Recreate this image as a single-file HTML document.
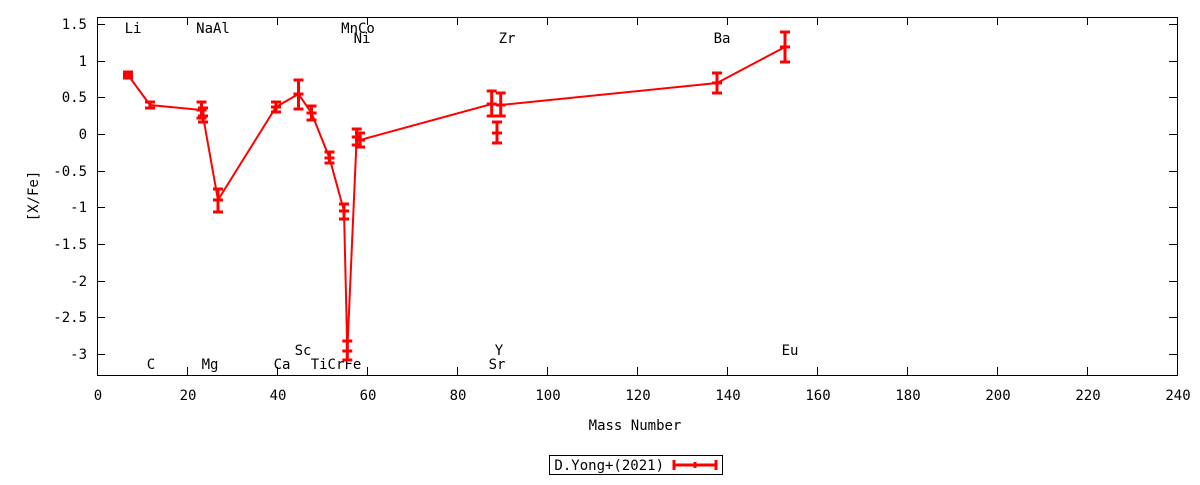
<!DOCTYPE html>
<html><head><meta charset="utf-8"><style>
body{margin:0;background:#fff}
svg text{font-family:"DejaVu Sans Mono","Liberation Mono",monospace;font-size:14px;fill:#000}
</style></head><body>
<svg width="1200" height="480" viewBox="0 0 1200 480" xmlns="http://www.w3.org/2000/svg">
<rect x="97.5" y="17.5" width="1080" height="358" fill="none" stroke="#000" stroke-width="1"/>
<g stroke="#000" stroke-width="1">
<path d="M97 24.5h8M97 61.5h8M97 97.5h8M97 134.5h8M97 171.5h8M97 207.5h8M97 244.5h8M97 281.5h8M97 317.5h8M97 354.5h8"/>
<path d="M1177 24.5h-8M1177 61.5h-8M1177 97.5h-8M1177 134.5h-8M1177 171.5h-8M1177 207.5h-8M1177 244.5h-8M1177 281.5h-8M1177 317.5h-8M1177 354.5h-8"/>
<path d="M187.5 375v-8M277.5 375v-8M367.5 375v-8M457.5 375v-8M547.5 375v-8M637.5 375v-8M727.5 375v-8M817.5 375v-8M907.5 375v-8M997.5 375v-8M1087.5 375v-8"/>
<path d="M187.5 17v8M277.5 17v8M367.5 17v8M457.5 17v8M547.5 17v8M637.5 17v8M727.5 17v8M817.5 17v8M907.5 17v8M997.5 17v8M1087.5 17v8"/>
</g>
<g text-anchor="end">
<text x="87" y="29">1.5</text><text x="87" y="66">1</text><text x="87" y="102">0.5</text><text x="87" y="139">0</text><text x="87" y="176">-0.5</text><text x="87" y="212">-1</text><text x="87" y="249">-1.5</text><text x="87" y="286">-2</text><text x="87" y="322">-2.5</text><text x="87" y="359">-3</text>
</g>
<g text-anchor="middle">
<text x="98" y="400">0</text><text x="188" y="400">20</text><text x="278" y="400">40</text><text x="368" y="400">60</text><text x="458" y="400">80</text><text x="548" y="400">100</text><text x="638" y="400">120</text><text x="728" y="400">140</text><text x="818" y="400">160</text><text x="908" y="400">180</text><text x="998" y="400">200</text><text x="1088" y="400">220</text><text x="1178" y="400">240</text>
<text x="635" y="430">Mass Number</text>
<text x="133" y="33">Li</text><text x="213" y="33">NaAl</text><text x="358" y="33">MnCo</text><text x="362" y="43">Ni</text><text x="507" y="43">Zr</text><text x="722" y="43">Ba</text>
<text x="151" y="369">C</text><text x="210" y="369">Mg</text><text x="282" y="369">Ca</text><text x="303" y="355">Sc</text><text x="336" y="369">TiCrFe</text><text x="499" y="355">Y</text><text x="497" y="369">Sr</text><text x="790" y="355">Eu</text>
</g>
<text x="38" y="196" text-anchor="middle" transform="rotate(-90 38 196)">[X/Fe]</text>
<polyline fill="none" stroke="#f00" stroke-width="2" points="128,75 150,105 201.5,110 203,116 218,200 276,107 298.5,94 311.5,113 329.5,158 344,211 347.3,350.7 356.7,137 360,140 491.7,104 500.7,105 717,83 785,47"/>
<g stroke="#f00" stroke-width="3" fill="none">
<path d="M128 72v6M123 72h10M123 78h10M123 75h10"/>
<path d="M150 102v6M145 102h10M145 108h10"/>
<path d="M201.5 102v16M196.5 102h10M196.5 118h10M196.5 110h10"/>
<path d="M203 108v14M198 108h10M198 122h10M198 116h10"/>
<path d="M218 189v23M213 189h10M213 212h10M213 200h10"/>
<path d="M276 102v10M271 102h10M271 112h10M271 107h10"/>
<path d="M298.5 80v29M293.5 80h10M293.5 109h10M293.5 94h10"/>
<path d="M311.5 106v14M306.5 106h10M306.5 120h10M306.5 113h10"/>
<path d="M329.5 152v11M324.5 152h10M324.5 163h10M324.5 158h10"/>
<path d="M344 204v15M339 204h10M339 219h10M339 211h10"/>
<path d="M347.3 341v19M342.3 341h10M342.3 360h10M342.3 351h10"/>
<path d="M356.7 129v16M351.7 129h10M351.7 145h10M351.7 137h10"/>
<path d="M360 133v14M355 133h10M355 147h10M355 140h10"/>
<path d="M491.7 91v25M486.7 91h10M486.7 116h10M486.7 104h10"/>
<path d="M500.7 93v23M495.7 93h10M495.7 116h10M495.7 105h10"/>
<path d="M497 122v21M492 122h10M492 143h10M492 133h10"/>
<path d="M717 73v20M712 73h10M712 93h10M712 83h10"/>
<path d="M785 32v30M780 32h10M780 62h10M780 47h10"/>
</g>
<rect x="549.5" y="455.5" width="173" height="19" fill="none" stroke="#000"/>
<text x="664" y="470" text-anchor="end">D.Yong+(2021)</text>
<g stroke="#f00" stroke-width="3"><path d="M674 465h42M674 460v10M716 460v10M695 462v6"/></g>
</svg>
</body></html>
